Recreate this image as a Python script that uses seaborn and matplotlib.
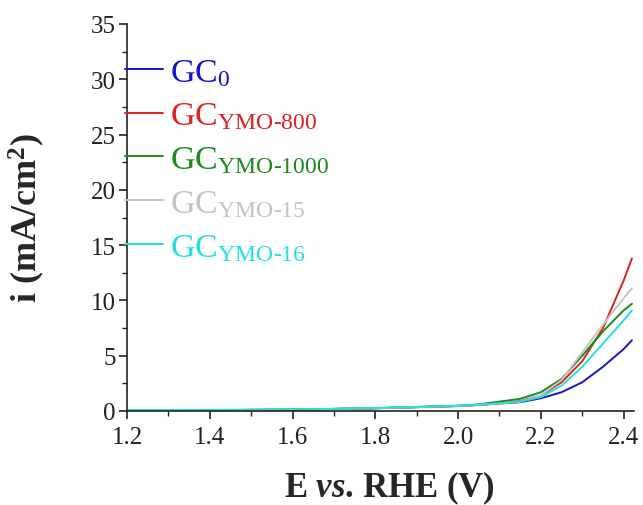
import numpy as np
import pandas as pd
import seaborn as sns
import matplotlib.pyplot as plt
from matplotlib.ticker import MultipleLocator

sns.set_style("ticks")
plt.rcParams['font.family'] = ['Liberation Serif', 'DejaVu Serif']
plt.rcParams['mathtext.fontset'] = 'custom'
plt.rcParams['mathtext.rm'] = 'Liberation Serif'
plt.rcParams['mathtext.it'] = 'Liberation Serif:italic:bold'
plt.rcParams['mathtext.bf'] = 'Liberation Serif:bold'

# potential (V vs. RHE)
E = [1.2, 1.4, 1.6, 1.8, 1.9, 2.0, 2.05, 2.1, 2.15, 2.2, 2.25, 2.3, 2.35, 2.4, 2.42]

i_gc0 =     [0.05, 0.08, 0.12, 0.25, 0.35, 0.45, 0.55, 0.68, 0.8, 1.15, 1.7, 2.6, 4.0, 5.6, 6.4]
i_ymo800 =  [0.05, 0.08, 0.12, 0.25, 0.35, 0.45, 0.55, 0.7, 0.9, 1.4, 2.6, 4.5, 7.5, 11.8, 13.8]
i_ymo1000 = [0.05, 0.08, 0.12, 0.25, 0.35, 0.47, 0.6, 0.85, 1.1, 1.7, 2.9, 5.0, 7.2, 9.1, 9.7]
i_ymo15 =   [0.05, 0.08, 0.12, 0.25, 0.35, 0.45, 0.55, 0.68, 0.85, 1.4, 2.8, 5.3, 7.8, 10.2, 11.1]
i_ymo16 =   [0.08, 0.1, 0.14, 0.28, 0.38, 0.48, 0.57, 0.7, 0.85, 1.25, 2.3, 4.0, 6.1, 8.2, 9.1]

labels = [r'GC$_{\mathrm{0}}$', r'GC$_{\text{YMO-800}}$', r'GC$_{\text{YMO-1000}}$',
          r'GC$_{\text{YMO-15}}$', r'GC$_{\text{YMO-16}}$']
colors = ['#1515cc', '#e02020', '#1a8a1a', '#c4c4c4', '#22e0e0']
series = [i_gc0, i_ymo800, i_ymo1000, i_ymo15, i_ymo16]

df = pd.concat([pd.DataFrame({'E': E, 'i': s, 'sample': lab})
                for s, lab in zip(series, labels)])

fig = plt.figure(figsize=(6.43, 5.06), dpi=100)
ax = fig.add_axes([127 / 643, 1 - 412 / 506, (634 - 127) / 643, (412 - 25) / 506])

sns.lineplot(data=df, x='E', y='i', hue='sample', palette=colors, ax=ax,
             linewidth=1.4, sort=False)

ax.set_xlim(1.2, 2.425)
ax.set_ylim(0, 35)
ax.xaxis.set_major_locator(MultipleLocator(0.2))
ax.xaxis.set_minor_locator(MultipleLocator(0.1))
ax.yaxis.set_major_locator(MultipleLocator(5))
ax.yaxis.set_minor_locator(MultipleLocator(2.5))
ax.xaxis.set_major_formatter(plt.FuncFormatter(lambda v, p: f'{v:.1f}'))
ax.tick_params(which='major', direction='out', length=6, width=1.2, labelsize=18,
               colors='#222222', pad=2)
ax.tick_params(axis='x', which='major', pad=5)
ax.tick_params(which='minor', direction='out', length=3.5, width=1.0, colors='#222222')
sns.despine(ax=ax)
for s in ['left', 'bottom']:
    ax.spines[s].set_linewidth(1.2)
    ax.spines[s].set_color('#222222')

ax.set_xlabel(r'E $\it{vs}$. RHE (V)', fontsize=25, fontweight='bold')
ax.set_ylabel(r'i (mA/cm$\mathbf{^2}$)', fontsize=26, fontweight='bold')
ax.xaxis.set_label_coords(0.517, -0.15)
ax.yaxis.set_label_coords(-0.158, 0.5)

leg = ax.legend(loc='upper left', bbox_to_anchor=(-0.003, 0.915), frameon=False,
                fontsize=24.5, handlelength=1.1, handletextpad=0.2, labelspacing=0.38,
                labelcolor='linecolor', borderaxespad=0, borderpad=0)
for line in leg.get_lines():
    line.set_linewidth(1.4)

fig.savefig('out.png', dpi=100)
